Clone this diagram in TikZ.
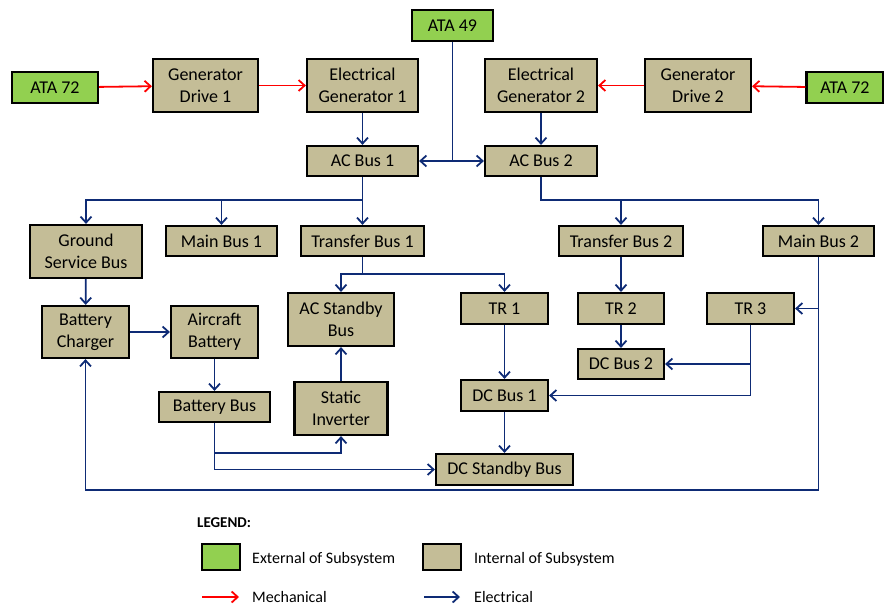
\documentclass[tikz,border=0pt]{standalone}
\usepackage{fontspec}
\setmainfont{Carlito}
\usetikzlibrary{arrows.meta}

\definecolor{extgreen}{HTML}{92D050}
\definecolor{inttan}{HTML}{C4BD97}
\definecolor{elecblue}{HTML}{0E2B75}

\begin{document}
\begin{tikzpicture}[
    x=1pt, y=-1pt,
    unit/.style={draw, line width=2.2pt, align=center, inner sep=0pt,
                 font=\fontsize{18}{22}\selectfont},
    intbox/.style={unit, fill=inttan},
    extbox/.style={unit, fill=extgreen},
    bus/.style={intbox, minimum height=30},
    tall/.style={intbox, minimum height=53},
    elec/.style={draw=elecblue, line width=1.8pt,
                 -{Straight Barb[length=6pt,width=11pt,line width=1.8pt]}},
    mech/.style={draw=red, line width=1.8pt,
                 -{Straight Barb[length=6pt,width=11pt,line width=1.8pt]}},
    key/.style={anchor=west, inner sep=0pt, font=\fontsize{16}{19}\selectfont}
]
\path[use as bounding box] (0,0) rectangle (884,605);

% sources and generators
\node[extbox, minimum width=86, minimum height=31] (ata72l) at (55,87.5) {ATA 72};
\node[tall, minimum width=105] (gendrv1) at (205.5,85.5) {Generator\\Drive 1};
\node[tall, minimum width=111] (elgen1) at (362.5,85.5) {Electrical\\Generator 1};
\node[extbox, minimum width=81, minimum height=31] (ata49) at (452.5,25.5) {ATA 49};
\node[tall, minimum width=112] (elgen2) at (541,85.5) {Electrical\\Generator 2};
\node[tall, minimum width=106] (gendrv2) at (698,85.5) {Generator\\Drive 2};
\node[extbox, minimum width=77, minimum height=31] (ata72r) at (845,87.5) {ATA 72};

% AC side
\node[bus, minimum width=111] (acbus1) at (362.5,161) {AC Bus 1};
\node[bus, minimum width=112] (acbus2) at (541,161) {AC Bus 2};
\node[tall, minimum width=112] (gsbus) at (86,251.5) {Ground\\Service Bus};
\node[bus, minimum width=111] (mainbus1) at (221.5,241) {Main Bus 1};
\node[bus, minimum width=123] (xferbus1) at (362.5,241) {Transfer Bus 1};
\node[bus, minimum width=124] (xferbus2) at (621,241) {Transfer Bus 2};
\node[bus, minimum width=111] (mainbus2) at (818.5,241) {Main Bus 2};

% battery and standby
\node[intbox, minimum width=87, minimum height=52] (charger) at (85.5,332) {Battery\\Charger};
\node[intbox, minimum width=87, minimum height=52] (acbatt) at (214.5,332) {Aircraft\\Battery};
\node[bus, minimum width=111] (batbus) at (214.5,407) {Battery Bus};
\node[tall, minimum width=106] (acstby) at (341,319.5) {AC Standby\\Bus};
\node[tall, minimum width=93] (inverter) at (341,408.5) {Static\\Inverter};

% DC side
\node[bus, minimum width=87, minimum height=31] (tr1) at (504.5,308.5) {TR 1};
\node[bus, minimum width=86, minimum height=31] (tr2) at (621,308.5) {TR 2};
\node[bus, minimum width=87, minimum height=31] (tr3) at (750.5,308.5) {TR 3};
\node[bus, minimum width=86] (dcbus2) at (621,364) {DC Bus 2};
\node[bus, minimum width=87, minimum height=31] (dcbus1) at (504.5,395.5) {DC Bus 1};
\node[bus, minimum width=137, minimum height=31] (dcstby) at (504.5,469.5) {DC Standby Bus};

% mechanical drive
\draw[mech] (ata72l) -- (gendrv1);
\draw[mech] (gendrv1) -- (elgen1);
\draw[mech] (ata72r) -- (gendrv2);
\draw[mech] (gendrv2) -- (elgen2);

% generation
\draw[elec] (elgen1) -- (acbus1);
\draw[elec] (elgen2) -- (acbus2);
\coordinate (ata49foot) at (452.5,161);
\draw[elec] (ata49) -- (ata49foot) -- (acbus1);
\draw[elec] (ata49foot) -- (acbus2);

% AC distribution
\coordinate (ac1split) at (362.5,200);
\draw[elec] (acbus1) -- (ac1split) -| (gsbus);
\draw[elec] (ac1split) -| (mainbus1);
\draw[elec] (ac1split) -- (xferbus1);
\coordinate (ac2split) at (541,200);
\draw[elec] (acbus2) -- (ac2split) -| (xferbus2);
\draw[elec] (ac2split) -| (mainbus2);

\coordinate (xb1split) at (362.5,274);
\draw[elec] (xferbus1) -- (xb1split) -| (acstby);
\draw[elec] (xb1split) -| (tr1);
\draw[elec] (xferbus2) -- (tr2);

% battery chain
\draw[elec] (gsbus) -- (charger);
\draw[elec] (charger) -- (acbatt);
\draw[elec] (acbatt) -- (batbus);
\coordinate (bbsplit) at (214.5,453);
\draw[elec] (batbus) -- (bbsplit) -| (inverter);
\draw[elec] (bbsplit) |- (dcstby);
\draw[elec] (inverter) -- (acstby);

% DC distribution
\draw[elec] (tr1) -- (dcbus1);
\draw[elec] (dcbus1) -- (dcstby);
\draw[elec] (tr2) -- (dcbus2);
\coordinate (tr3split) at (750.5,364);
\draw[elec] (tr3) -- (tr3split) -- (dcbus2);
\draw[elec] (tr3split) |- (dcbus1);

\coordinate (mb2tap) at (818.5,308.5);
\coordinate (mb2foot) at (818.5,490);
\draw[elec] (mainbus2) -- (mb2tap) -- (tr3);
\draw[elec] (mb2tap) -- (mb2foot) -| (charger);

% legend
\node[key, font=\fontsize{15}{18}\selectfont\bfseries] (legtitle) at (197,523) {LEGEND:};
\node[extbox, minimum width=38, minimum height=26] (legext) at (221,557) {};
\node[key] (legexttxt) at (252,559) {External of Subsystem};
\node[intbox, minimum width=38, minimum height=26] (legint) at (442,557) {};
\node[key] (leginttxt) at (474,559) {Internal of Subsystem};
\coordinate (mechA) at (202,597);
\coordinate (mechB) at (239,597);
\draw[mech] (mechA) -- (mechB);
\node[key] (legmech) at (252,597) {Mechanical};
\coordinate (elecA) at (424,597);
\coordinate (elecB) at (460,597);
\draw[elec] (elecA) -- (elecB);
\node[key] (legelec) at (474,597) {Electrical};

\end{tikzpicture}
\end{document}
